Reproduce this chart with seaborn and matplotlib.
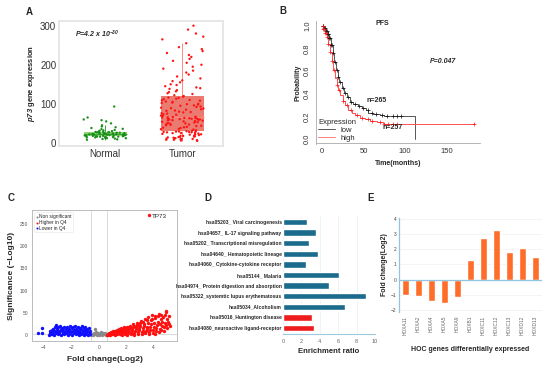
import numpy as np
import pandas as pd
import seaborn as sns
import matplotlib.pyplot as plt
from matplotlib.lines import Line2D

# ---- panel A: p73 expression ----
normal_expr = [8, 9, 10, 11, 12, 12, 13, 14, 14, 15, 15, 16, 16, 17, 17, 17, 18, 18,
               19, 19, 20, 20, 20, 21, 21, 22, 22, 22, 23, 23, 23, 24, 24, 25, 25, 26,
               26, 27, 27, 28, 28, 29, 30, 31, 32, 33, 35, 36, 38, 40, 42, 45, 50, 55,
               58, 60, 65, 93, 14, 18, 21, 24, 19, 16, 27, 22, 20, 25]
tumor_expr = [5, 6, 7, 8, 8, 9, 10, 10, 11, 12, 12, 13, 14, 15, 15, 16, 17, 18, 18, 19,
              20, 21, 22, 22, 23, 24, 25, 25, 26, 27, 27, 28, 28, 29, 29, 29, 30,
              31, 32, 34, 35, 36, 38, 39, 40, 41, 43, 44, 45, 46, 47, 48, 49, 50, 51,
              52, 53, 54, 55, 56, 57, 58, 58, 59, 60, 60, 61, 62, 62, 63, 63, 64, 64, 65, 65,
              66, 67, 69, 70, 72, 73, 75, 76, 78, 79, 80, 82, 83, 85, 86, 88, 89, 90, 92,
              93, 95, 96, 98, 99, 100, 102, 103, 105, 106, 108, 109, 110, 112, 113, 115, 116, 118,
              120, 122, 125, 127, 130, 132, 135, 138, 140, 142, 145, 148, 150, 155, 158, 160,
              165, 170, 175, 180, 185, 190, 195, 200, 205, 210, 215, 220, 225, 230, 235, 240,
              245, 255, 265, 272, 280, 290, 300]

# ---- panel B: PFS Kaplan-Meier ----
low_t = [0, 3, 5, 7, 9, 11, 13, 15, 17, 19, 21, 24, 27, 30, 34, 38, 43, 48, 53, 56, 62, 70, 75, 112]
low_s = [1.0, 0.98, 0.96, 0.93, 0.89, 0.83, 0.76, 0.68, 0.61, 0.55, 0.50, 0.45, 0.41, 0.37,
         0.33, 0.31, 0.29, 0.27, 0.26, 0.23, 0.22, 0.21, 0.20, 0.0]
high_t = [0, 2, 4, 6, 8, 10, 12, 14, 16, 18, 20, 22, 25, 28, 32, 36, 40, 46, 52, 58, 66, 73, 75]
high_s = [1.0, 0.97, 0.94, 0.90, 0.84, 0.77, 0.69, 0.61, 0.54, 0.48, 0.43, 0.39, 0.34, 0.30,
          0.26, 0.23, 0.21, 0.19, 0.18, 0.16, 0.15, 0.14, 0.13]
high_end = 183
low_cens = [1, 2, 3, 4, 5, 6, 7, 8, 9, 10, 11, 12, 14, 16, 18, 20, 22, 25, 28, 31, 35, 40,
            45, 50, 55, 60, 65, 72, 78, 85, 90, 95]
high_cens = [1, 2, 3, 4, 5, 6, 8, 10, 12, 15, 18, 21, 25, 30, 35, 42, 48, 55, 60, 70, 75,
             80, 85, 90, 183]

# ---- panel C: volcano ----
grey_pts = [(-0.58, 1), (-0.5, 3), (-0.42, 0.5), (-0.35, 5), (-0.28, 2), (-0.2, 7), (-0.12, 1),
            (-0.05, 4), (0.02, 0.5), (0.1, 3), (0.18, 6), (0.25, 1), (0.32, 4), (0.4, 2),
            (0.48, 5), (0.56, 1), (-0.26, 13)]
red_pts = [(0.62, 1), (0.66, 3), (0.7, 0.5), (0.74, 2), (0.78, 5), (0.82, 1), (0.86, 3.5), (0.9, 6),
           (0.95, 1.5), (1.0, 4), (1.04, 8), (1.08, 2), (1.12, 6), (1.16, 10), (1.2, 0.5),
           (1.24, 3.5), (1.28, 7.5), (1.32, 12), (1.36, 1.5), (1.4, 5), (1.44, 9), (1.48, 13),
           (1.52, 3), (1.56, 7), (1.6, 11), (1.64, 15), (1.68, 1), (1.72, 5), (1.76, 9), (1.8, 13),
           (1.84, 17), (1.88, 3), (1.92, 7), (1.96, 11), (2.0, 15), (2.04, 19), (2.08, 1), (2.12, 5),
           (2.16, 9), (2.2, 13), (2.24, 17), (2.28, 21), (2.32, 3), (2.36, 7), (2.4, 11), (2.44, 15),
           (2.48, 19), (2.52, 24), (2.56, 1), (2.6, 5), (2.64, 9), (2.68, 13), (2.72, 17), (2.76, 22),
           (2.8, 27), (2.84, 3), (2.88, 7), (2.92, 11), (2.96, 16), (3.0, 21), (3.04, 26), (3.08, 31),
           (3.12, 2), (3.16, 6), (3.2, 10), (3.24, 15), (3.28, 20), (3.32, 25), (3.36, 35), (3.4, 4),
           (3.44, 9), (3.48, 14), (3.52, 19), (3.56, 28), (3.6, 40), (3.64, 2), (3.68, 7), (3.72, 12),
           (3.76, 18), (3.8, 24), (3.84, 33), (3.88, 44), (3.92, 5), (3.96, 11), (4.0, 17), (4.04, 26),
           (4.08, 38), (4.12, 3), (4.16, 9), (4.2, 15), (4.24, 22), (4.28, 30), (4.32, 42), (4.36, 47),
           (4.4, 7), (4.44, 14), (4.48, 24), (4.52, 35), (4.56, 12), (4.6, 20), (4.64, 29), (4.68, 40),
           (4.72, 8), (4.76, 17), (4.8, 27), (4.84, 45), (4.88, 52), (4.92, 22), (4.96, 35), (5.0, 15),
           (5.05, 30), (5.1, 42), (5.15, 25), (5.2, 20), (4.9, 55), (4.5, 46), (4.1, 43), (3.9, 36),
           (3.5, 33), (3.2, 30), (2.9, 23), (2.6, 20), (2.3, 18), (2.0, 12), (1.7, 10), (1.4, 8),
           (1.1, 5), (0.8, 3), (3.65, 270)]
blue_pts = [(-3.62, 1), (-3.58, 4), (-3.54, 8), (-3.5, 2), (-3.46, 6), (-3.42, 11), (-3.38, 3),
            (-3.34, 14), (-3.3, 7), (-3.26, 1), (-3.22, 18), (-3.18, 10), (-3.14, 4), (-3.1, 22),
            (-3.06, 13), (-3.02, 7), (-2.98, 2), (-2.94, 17), (-2.9, 10), (-2.86, 5), (-2.82, 20),
            (-2.78, 13), (-2.74, 1), (-2.7, 8), (-2.66, 16), (-2.62, 4), (-2.58, 11), (-2.54, 19),
            (-2.5, 2), (-2.46, 7), (-2.42, 14), (-2.38, 5), (-2.34, 10), (-2.3, 17), (-2.26, 1),
            (-2.22, 8), (-2.18, 13), (-2.14, 3), (-2.1, 20), (-2.06, 10), (-2.02, 6), (-1.98, 15),
            (-1.94, 1), (-1.9, 9), (-1.86, 18), (-1.82, 4), (-1.78, 12), (-1.74, 7), (-1.7, 21),
            (-1.66, 2), (-1.62, 14), (-1.58, 9), (-1.54, 5), (-1.5, 19), (-1.46, 11), (-1.42, 1),
            (-1.38, 16), (-1.34, 7), (-1.3, 3), (-1.26, 13), (-1.22, 20), (-1.18, 9), (-1.14, 5),
            (-1.1, 15), (-1.06, 1), (-1.02, 11), (-0.98, 18), (-0.94, 6), (-0.9, 3), (-0.86, 13),
            (-0.82, 9), (-0.78, 1), (-0.74, 16), (-0.7, 6), (-0.66, 3), (-0.62, 10),
            (-4.44, 5), (-4.13, 15), (-4.1, 4)]

# ---- panel D: KEGG enrichment ----
pathways = ['hsa05203_ Viral carcinogenesis', 'hsa04657_ IL-17 signaling pathway',
            'hsa05202_ Transcriptional misregulation', 'hsa04640_ Hematopoietic lineage',
            'hsa04060_ Cytokine-cytokine receptor', 'hsa05144_ Malaria',
            'hsa04974_ Protein digestion and absorption', 'hsa05322_systemtic lupus erythematosus',
            'hsa05034_Alcoholism', 'hsa05016_Huntington disease', 'hsa04080_neuroactive ligand-receptor']
enrich_ratio = [2.6, 3.6, 2.8, 3.8, 2.5, 6.1, 5.0, 9.0, 6.7, 3.1, 3.4]
pathway_dir = ['up'] * 9 + ['down'] * 2

# ---- panel E: HOX genes ----
hox_genes = ['HOXA11', 'HOXA2', 'HOXA4', 'HOXA5', 'HOXA9', 'HOXB1', 'HOXC11', 'HOXC12',
             'HOXC13', 'HOXD12', 'HOXD13']
hox_fc = [-1.03, -1.1, -1.38, -1.56, -1.16, 1.27, 2.73, 3.25, 1.82, 2.09, 1.47]

sns.set_style('white')
plt.rcParams['font.family'] = ['Liberation Sans', 'DejaVu Sans']
plt.rcParams['mathtext.fontset'] = 'custom'
plt.rcParams['mathtext.it'] = 'Liberation Sans:italic:bold'
plt.rcParams['mathtext.rm'] = 'Liberation Sans:italic:bold'

W, H = 550, 367
fig = plt.figure(figsize=(5.5, 3.67), dpi=100)


def box(x0, x1, y0, y1):
    return [x0 / W, 1 - y1 / H, (x1 - x0) / W, (y1 - y0) / H]


def label(x, y, s):
    fig.text(x / W, 1 - y / H, s, fontsize=7, fontweight='bold', ha='center', va='center')


# ===== A =====
np.random.seed(7)
axA = fig.add_axes(box(59, 223, 21, 146))
df_a = pd.DataFrame({'group': ['Normal'] * len(normal_expr) + ['Tumor'] * len(tumor_expr),
                     'value': normal_expr + tumor_expr})
sns.boxplot(data=df_a, x='group', y='value', hue='group', legend=False, ax=axA,
            palette={'Normal': '#86e563', 'Tumor': '#ff6a5c'}, width=0.56, showfliers=False,
            showcaps=False, linewidth=0.7, linecolor='#ff8a80')
for ln in axA.lines:
    if np.mean(ln.get_xdata()) < 0.5:
        ln.set_color('#3aa83a')
for p in axA.patches:
    p.set_edgecolor('none')
sns.stripplot(data=df_a, x='group', y='value', hue='group', legend=False, ax=axA,
              palette={'Normal': '#1b8f1b', 'Tumor': '#ff1414'}, jitter=0.28, size=1.7,
              linewidth=0, zorder=3)
axA.set_xlim(-0.6, 1.53)
axA.set_ylim(-8, 312)
axA.set_yticks([0, 100, 200, 300])
axA.set_xlabel('')
axA.set_ylabel(r'$\it{p73}$ gene expression', fontsize=5.5, fontweight='bold', labelpad=2)
axA.tick_params(labelsize=7, length=0, pad=2, colors='#333333')
for sp in axA.spines.values():
    sp.set_color('#e3e3e3')
    sp.set_linewidth(1.2)
axA.text(0.1, 0.87, r'$P$=4.2 x 10$^{-30}$', transform=axA.transAxes, fontsize=5,
         fontstyle='italic', fontweight='bold')
label(29, 12, 'A')

# ===== B =====
axB = fig.add_axes(box(316, 480, 21.5, 143.5))
axB.step(low_t, low_s, where='post', color='#555555', lw=0.7)
axB.step(high_t + [high_end], high_s + [high_s[-1]], where='post', color='#ff5050', lw=0.7)
low_c = [low_s[np.searchsorted(low_t, c, side='right') - 1] for c in low_cens]
high_c = [high_s[min(np.searchsorted(high_t, c, side='right') - 1, len(high_s) - 1)] for c in high_cens]
axB.plot(low_cens, low_c, '+', color='#111111', ms=2.5, mew=0.5)
axB.plot(high_cens, high_c, '+', color='#ff1a1a', ms=2.5, mew=0.5)
axB.set_xlim(-7, 190)
axB.set_ylim(-0.04, 1.04)
axB.set_xticks([0, 50, 100, 150])
axB.set_yticks([0, 0.2, 0.4, 0.6, 0.8, 1.0])
axB.set_yticklabels(['0.0', '0.2', '0.4', '0.6', '0.8', '1.0'], rotation=90, va='center')
axB.tick_params(labelsize=5.5, length=2, width=0.5, pad=1.5, colors='#333333')
for side in ['top', 'right']:
    axB.spines[side].set_visible(False)
for side in ['left', 'bottom']:
    axB.spines[side].set_color('#aaaaaa')
    axB.spines[side].set_linewidth(0.6)
axB.set_xlabel('Time(months)', fontsize=5, fontweight='bold', labelpad=3)
axB.set_ylabel('Probability', fontsize=5, fontweight='bold', labelpad=2)
axB.text(73, 1.02, 'PFS', fontsize=5, fontweight='bold', ha='center', va='center')
axB.text(145, 0.69, 'P=0.047', fontsize=5, fontweight='bold', fontstyle='italic', ha='center', va='center')
axB.text(66, 0.34, 'n=265', fontsize=5, fontweight='bold', ha='center', va='center')
axB.text(85, 0.10, 'n=257', fontsize=5, fontweight='bold', ha='center', va='center')
handles = [Line2D([], [], color='#555555', lw=0.7), Line2D([], [], color='#ff8080', lw=0.7)]
legB = axB.legend(handles, ['low', 'high'], title='Expression', loc='lower left', frameon=False,
                  fontsize=5.5, title_fontsize=5.5, bbox_to_anchor=(-0.02, -0.03),
                  handlelength=2.2, labelspacing=0.05, borderpad=0.2)
legB._legend_box.align = 'left'
label(283, 11, 'B')

# ===== C =====
axC = fig.add_axes(box(32, 177, 210, 341))
for pts, col, name in [(grey_pts, '#8a8a8a', 'Non significant'), (red_pts, '#ff1010', 'Higher in Q4'),
                       (blue_pts, '#1010ff', 'Lower in Q4')]:
    xs = [p[0] for p in pts]
    ys = [p[1] for p in pts]
    sns.scatterplot(x=xs, y=ys, color=col, s=6, linewidth=0, ax=axC, label=name, zorder=3)
axC.axvline(-0.58, color='#d5d5d5', lw=0.6, zorder=1)
axC.axvline(0.58, color='#d5d5d5', lw=0.6, zorder=1)
axC.axhline(1.3, color='#d5d5d5', lw=0.6, zorder=1)
axC.text(3.88, 266, 'TP73', fontsize=4.5, va='center', ha='left')
axC.set_xlim(-4.86, 5.7)
axC.set_ylim(-13.5, 281)
axC.set_xticks([-4, -2, 0, 2, 4])
axC.set_yticks([0, 50, 100, 150, 200, 250])
axC.tick_params(labelsize=3.5, length=1.5, width=0.4, pad=1.5, colors='#555555')
for sp in axC.spines.values():
    sp.set_color('#bbbbbb')
    sp.set_linewidth(0.7)
axC.set_xlabel('Fold change(Log2)', fontsize=6, fontweight='bold', labelpad=4)
axC.set_ylabel('Significance (\u2212Log10)', fontsize=6, fontweight='bold', labelpad=3)
legC = axC.legend(loc='upper left', fontsize=3.5, markerscale=0.6, handlelength=0.4,
                  handletextpad=0.2, labelspacing=0.15, borderpad=0.35, frameon=True,
                  bbox_to_anchor=(0.0, 1.0))
legC.get_frame().set_linewidth(0.4)
legC.get_frame().set_edgecolor('#dddddd')
label(11, 198, 'C')

# ===== D =====
axD = fig.add_axes(box(283, 375, 215.6, 334.4))
sns.barplot(x=enrich_ratio, y=pathways, hue=pathway_dir, palette={'up': '#1b6b8d', 'down': '#ee1c1c'},
            width=0.6, legend=False, ax=axD, dodge=False, saturation=1)
axD.set_xlim(0, 10)
axD.set_ylim(10.6, -0.6)
axD.set_xticks([0, 2, 4, 6, 8, 10])
axD.grid(axis='x', color='#e3f0f7', lw=0.5)
axD.set_axisbelow(True)
for side in ['top', 'right', 'left']:
    axD.spines[side].set_visible(False)
axD.spines['bottom'].set_color('#9cc9de')
axD.spines['bottom'].set_linewidth(0.8)
axD.tick_params(axis='x', labelsize=4, length=0, pad=3, colors='#666666')
axD.tick_params(axis='y', labelsize=3.6, length=0, pad=1)
for t in axD.get_yticklabels():
    t.set_fontweight('bold')
axD.set_xlabel('Enrichment ratio', fontsize=5.5, fontweight='bold', labelpad=3)
axD.set_ylabel('')
label(208, 198, 'D')

# ===== E =====
axE = fig.add_axes(box(399, 542, 218, 311.5))
sns.barplot(x=hox_genes, y=hox_fc, color='#ff6d2a', width=0.5, ax=axE, saturation=1)
axE.axhline(0, color='#8fc4e2', lw=0.9, zorder=2)
axE.set_xlim(-0.5, 10.5)
axE.set_ylim(-2.1, 4.05)
axE.set_yticks([-2, -1, 0, 1, 2, 3, 4])
axE.grid(axis='y', color='#f0f0f0', lw=0.5)
axE.set_axisbelow(True)
for side in ['top', 'right', 'bottom']:
    axE.spines[side].set_visible(False)
axE.spines['left'].set_color('#8fc4e2')
axE.spines['left'].set_linewidth(0.9)
axE.tick_params(axis='x', labelsize=3.5, length=0, pad=3, rotation=90, colors='#666666')
axE.tick_params(axis='y', labelsize=3.5, length=0, pad=2, colors='#444444')
axE.set_ylabel('Fold change(Log2)', fontsize=5, fontweight='bold', labelpad=2)
axE.set_xlabel('HOC genes differentially expressed', fontsize=5, fontweight='bold', labelpad=8)
label(371, 198, 'E')

fig.savefig('out.png', dpi=100)
